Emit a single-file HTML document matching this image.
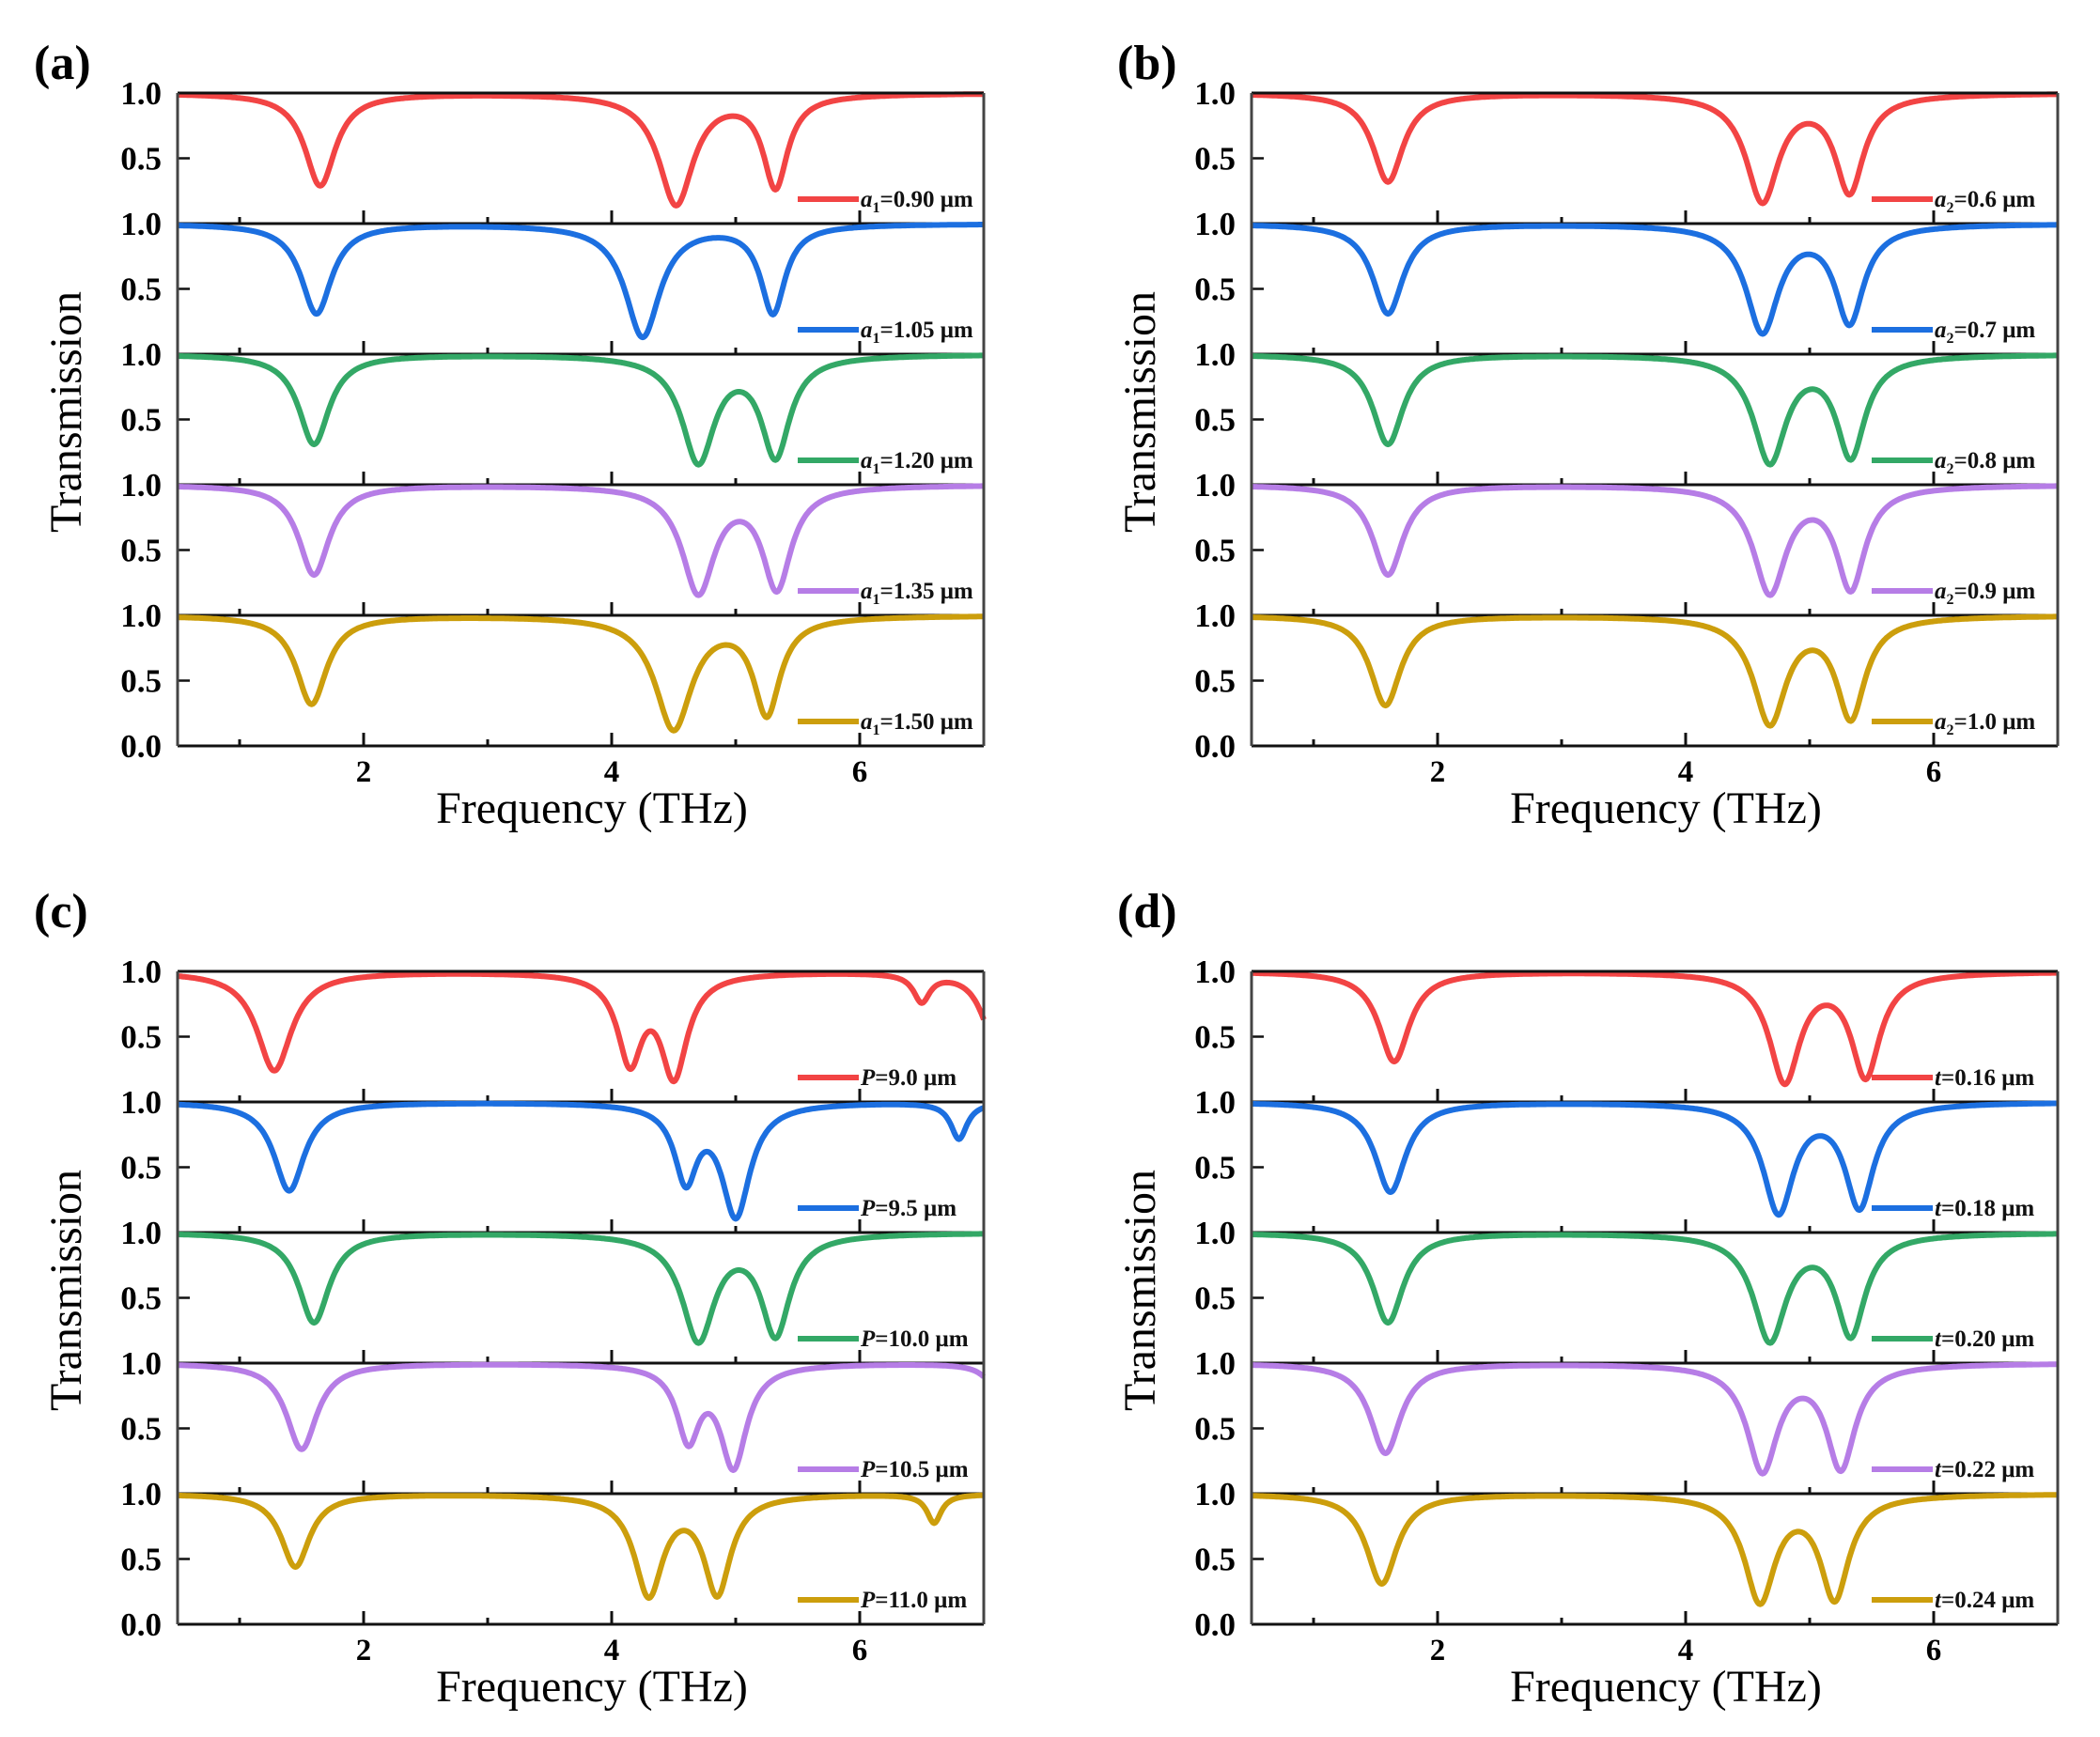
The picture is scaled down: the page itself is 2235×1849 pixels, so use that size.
<!DOCTYPE html>
<html><head><meta charset="utf-8"><style>
html,body{margin:0;padding:0;background:#fff}
svg{display:block}
text{font-family:"Liberation Serif",serif}
</style></head><body>
<svg id="fig" width="2235" height="1849" viewBox="0 0 2235 1849" xmlns="http://www.w3.org/2000/svg"></svg>
<script>
// ---- data: dips per curve: [frequency THz, depth, half-width THz]
const colors = ["#f24444","#1c6fe0","#33a866","#b67de6","#cc9e0c"];
const panelLetters = ["(a)","(b)","(c)","(d)"];
const xTicks = [2,4,6];
const xMinor = [1,3,5];
const yTickLabels = ["1.0","0.5"];
const legendA = ["=0.90 μm","=1.05 μm","=1.20 μm","=1.35 μm","=1.50 μm"];
const legendB = ["=0.6 μm","=0.7 μm","=0.8 μm","=0.9 μm","=1.0 μm"];
const legendC = ["=9.0 μm","=9.5 μm","=10.0 μm","=10.5 μm","=11.0 μm"];
const legendD = ["=0.16 μm","=0.18 μm","=0.20 μm","=0.22 μm","=0.24 μm"];
const dipsA = [
  [[1.65,0.71,0.15],[4.52,0.86,0.17],[5.32,0.73,0.12]],
  [[1.62,0.69,0.15],[4.25,0.87,0.17],[5.30,0.69,0.12]],
  [[1.60,0.69,0.15],[4.70,0.84,0.16],[5.32,0.80,0.14]],
  [[1.60,0.69,0.15],[4.70,0.84,0.16],[5.33,0.81,0.14]],
  [[1.58,0.68,0.15],[4.50,0.88,0.18],[5.25,0.77,0.13]]
];
const dipsB = [
  [[1.60,0.68,0.15],[4.62,0.84,0.16],[5.32,0.77,0.14]],
  [[1.60,0.69,0.15],[4.62,0.84,0.16],[5.32,0.77,0.14]],
  [[1.60,0.69,0.15],[4.68,0.84,0.16],[5.33,0.80,0.14]],
  [[1.60,0.69,0.15],[4.68,0.84,0.16],[5.33,0.81,0.14]],
  [[1.58,0.69,0.15],[4.68,0.84,0.16],[5.33,0.80,0.14]]
];
const dipsC = [
  [[1.28,0.76,0.17],[4.15,0.72,0.12],[4.50,0.83,0.13],[6.50,0.22,0.08],[7.08,0.50,0.13]],
  [[1.40,0.68,0.15],[4.60,0.62,0.11],[5.00,0.89,0.14],[6.80,0.28,0.08]],
  [[1.60,0.69,0.15],[4.70,0.84,0.16],[5.32,0.80,0.14]],
  [[1.50,0.66,0.15],[4.62,0.60,0.11],[4.98,0.81,0.13],[7.12,0.22,0.11]],
  [[1.45,0.56,0.14],[4.30,0.79,0.14],[4.85,0.78,0.13],[6.60,0.22,0.07]]
];
const dipsD = [
  [[1.65,0.69,0.15],[4.80,0.86,0.15],[5.45,0.82,0.14]],
  [[1.62,0.69,0.15],[4.75,0.86,0.15],[5.40,0.82,0.14]],
  [[1.60,0.69,0.15],[4.68,0.84,0.16],[5.33,0.80,0.14]],
  [[1.58,0.69,0.15],[4.62,0.84,0.15],[5.25,0.82,0.14]],
  [[1.55,0.69,0.15],[4.60,0.84,0.15],[5.20,0.82,0.14]]
];
const panelDips = [dipsA,dipsB,dipsC,dipsD];
const panelLegends = [legendA,legendB,legendC,legendD];
const panelVar = ["a","a","P","t"];
const panelSub = ["1","2","",""];

// ---- layout
const panels = [
  {L:189,T:99,B:794,lx:36,ly:84},
  {L:1332,T:99,B:794,lx:1189,ly:84},
  {L:189,T:1034,B:1729,lx:36,ly:987},
  {L:1332,T:1034,B:1729,lx:1189,ly:987}
];
const XMIN=0.5, XMAX=7.0, PXPT=132;
const NS="http://www.w3.org/2000/svg";
const svg=document.getElementById('fig');
function mk(tag,attrs,parent){const e=document.createElementNS(NS,tag);for(const k in attrs)e.setAttribute(k,attrs[k]);(parent||svg).appendChild(e);return e;}
function trans(f,dips){let t=1;for(const d of dips){const u=(f-d[0])/d[2];t*=1-d[1]/(1+u*u);}return t;}

panels.forEach((p,pi)=>{
  const g=mk('g',{});
  
  
  const R=p.L+(XMAX-XMIN)*PXPT;
  const h=(p.B-p.T)/5;
  const xs=f=>p.L+(f-XMIN)*PXPT;
  const lab=mk('text',{x:p.lx,y:p.ly,'font-size':52,'font-weight':'bold'},g);
  lab.textContent=panelLetters[pi];
  
  
  panelDips[pi].forEach((dips,k)=>{
    const top=p.T+k*h;
    const ys=v=>top+(1-v)*h;
    let d='';
    for(let i=0;i<=650;i++){const f=XMIN+(XMAX-XMIN)*i/650;d+=(i?'L':'M')+xs(f).toFixed(1)+','+ys(trans(f,dips)).toFixed(1);}
    const path=mk('path',{d:d,fill:'none',stroke:colors[k],'stroke-width':6,'stroke-linejoin':'round'},g);
    
    
    const ly=top+h-26;
    const ll=mk('line',{x1:R-198,x2:R-133,y1:ly,y2:ly,stroke:colors[k],'stroke-width':6},g);
    
    
    const lt=mk('text',{x:R-131,y:ly+8,'font-size':25,'font-weight':'bold',fill:'#111'},g);
    
    
    const v=document.createElementNS(NS,'tspan');v.setAttribute('font-style','italic');v.textContent=panelVar[pi];lt.appendChild(v);
    if(panelSub[pi]){const s=document.createElementNS(NS,'tspan');s.setAttribute('font-size',16);s.setAttribute('dy',6);s.textContent=panelSub[pi];lt.appendChild(s);
      const r=document.createElementNS(NS,'tspan');r.setAttribute('dy',-6);r.textContent=panelLegends[pi][k];lt.appendChild(r);}
    else{const r=document.createElementNS(NS,'tspan');r.textContent=panelLegends[pi][k];lt.appendChild(r);}
    yTickLabels.forEach((t,j)=>{
      const yy=top+(j===0?0:h/2);
      const tx=mk('text',{x:p.L-17,y:yy+12,'font-size':35,'font-weight':'bold','text-anchor':'end'},g);
      tx.textContent=t;
      
      
      if(j===1)mk('line',{x1:p.L,x2:p.L+13,y1:yy,y2:yy,stroke:'#111','stroke-width':2.5},g);
    });
    const by=top+h;
    mk('line',{x1:p.L,x2:R,y1:by,y2:by,stroke:'#111','stroke-width':3},g);
    xTicks.forEach(t=>mk('line',{x1:xs(t),x2:xs(t),y1:by,y2:by-14,stroke:'#111','stroke-width':3},g));
    xMinor.forEach(t=>mk('line',{x1:xs(t),x2:xs(t),y1:by,y2:by-7,stroke:'#111','stroke-width':3},g));
  });
  mk('line',{x1:p.L,x2:R,y1:p.T,y2:p.T,stroke:'#111','stroke-width':3},g);
  mk('line',{x1:p.L,x2:p.L,y1:p.T,y2:p.B,stroke:'#444','stroke-width':3},g);
  mk('line',{x1:R,x2:R,y1:p.T,y2:p.B,stroke:'#444','stroke-width':3},g);
  const z=mk('text',{x:p.L-17,y:p.B+12,'font-size':35,'font-weight':'bold','text-anchor':'end'},g);
  z.textContent="0.0";
  
  
  xTicks.forEach(t=>{
    const tx=mk('text',{x:xs(t),y:p.B+38,'font-size':33,'font-weight':'bold','text-anchor':'middle'},g);
    tx.textContent=String(t);
    
    
  });
  const xt=mk('text',{x:(p.L+R)/2+12,y:p.B+82,'font-size':48,'text-anchor':'middle'},g);
  xt.textContent="Frequency (THz)";
  
  
  const cy=(p.T+p.B)/2-8, cx=p.L-103;
  const yt=mk('text',{x:cx,y:cy,'font-size':48,'text-anchor':'middle',transform:'rotate(-90 '+cx+' '+cy+')'},g);
  yt.textContent="Transmission";
  
  
});
</script>
</body></html>
